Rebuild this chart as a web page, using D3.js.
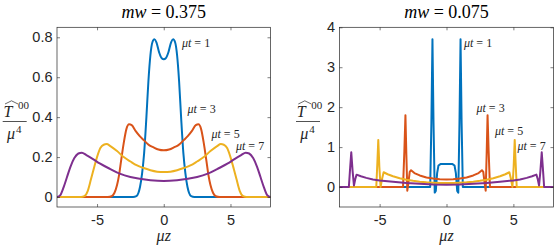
<!DOCTYPE html>
<html><head><meta charset="utf-8">
<script src="https://cdn.jsdelivr.net/npm/d3@7"></script>
<style>body{margin:0;background:#fff}svg{display:block}
.serif{font-family:"Liberation Serif","DejaVu Serif",serif}
.sans{font-family:"Liberation Sans","DejaVu Sans",sans-serif}
</style>
</head><body>
<svg id="c" width="559" height="250"></svg>
<script>
// ---------- data ----------
const colors = ["#0072BD", "#D95319", "#EDB120", "#7E2F8E"];
const seriesLabels = ["1", "3", "5", "7"];
const titlesMw = ["0.375", "0.075"];
const xTicks = [-5, 0, 5];
const yTicksLeft = [0, 0.2, 0.4, 0.6, 0.8];
const yTicksRight = [0, 1, 2, 3, 4];

// mw = 0.375  [μz, T00/μ^4]
const left_t1 = [[-8,0],[-2.3,0],[-2.05,0.004],[-1.9,0.02],[-1.78,0.05],[-1.62,0.12],[-1.47,0.22],[-1.3,0.4],[-1.15,0.58],[-1.0,0.71],[-0.85,0.775],[-0.7,0.79],[-0.55,0.775],[-0.35,0.725],[-0.15,0.695],[0,0.69],
  [0.15,0.695],[0.35,0.725],[0.55,0.775],[0.7,0.79],[0.85,0.775],[1.0,0.71],[1.15,0.58],[1.3,0.4],[1.47,0.22],[1.62,0.12],[1.78,0.05],[1.9,0.02],[2.05,0.004],[2.3,0],[8,0]];
const left_t3 = [[-8,0],[-4.2,0],[-3.9,0.004],[-3.7,0.02],[-3.5,0.06],[-3.35,0.11],[-3.2,0.18],[-3.0,0.27],[-2.8,0.34],[-2.6,0.364],[-2.4,0.36],[-2.1,0.33],[-1.8,0.305],[-1.5,0.285],[-1.1,0.26],[-0.8,0.25],[-0.4,0.238],[0,0.234],
  [0.4,0.238],[0.8,0.25],[1.1,0.26],[1.5,0.285],[1.8,0.305],[2.1,0.33],[2.4,0.36],[2.6,0.364],[2.8,0.34],[3.0,0.27],[3.2,0.18],[3.35,0.11],[3.5,0.06],[3.7,0.02],[3.9,0.004],[4.2,0],[8,0]];
const left_t5 = [[-8,0],[-6.2,0],[-5.95,0.004],[-5.7,0.03],[-5.45,0.09],[-5.25,0.14],[-5.0,0.2],[-4.75,0.245],[-4.5,0.262],[-4.28,0.265],[-4.0,0.255],[-3.5,0.23],[-3.0,0.2],[-2.5,0.178],[-2.0,0.158],[-1.5,0.145],[-1.0,0.134],[-0.5,0.127],[0,0.125],
  [0.5,0.127],[1.0,0.134],[1.5,0.145],[2.0,0.158],[2.5,0.178],[3.0,0.2],[3.5,0.23],[4.0,0.255],[4.28,0.265],[4.5,0.262],[4.75,0.245],[5.0,0.2],[5.25,0.14],[5.45,0.09],[5.7,0.03],[5.95,0.004],[6.2,0],[8,0]];
const left_t7 = [[-8,0],[-7.75,0.01],[-7.5,0.05],[-7.25,0.1],[-7.0,0.15],[-6.7,0.195],[-6.4,0.218],[-6.14,0.222],[-5.8,0.21],[-5.3,0.19],[-4.8,0.168],[-4.0,0.14],[-3.3,0.117],[-2.5,0.1],[-1.8,0.091],[-1.0,0.084],[0,0.08],
  [1.0,0.084],[1.8,0.091],[2.5,0.1],[3.3,0.117],[4.0,0.14],[4.8,0.168],[5.3,0.19],[5.8,0.21],[6.14,0.222],[6.4,0.218],[6.7,0.195],[7.0,0.15],[7.25,0.1],[7.5,0.05],[7.75,0.01],[8,0]];

// mw = 0.075
const right_t1 = [[-8,0],[-1.22,0],[-1.13,1.6],[-1.05,3.7],[-0.97,1.6],[-0.88,-0.14],[-0.8,-0.1],[-0.7,0.35],[-0.6,0.54],[-0.45,0.575],[0,0.575],
  [0.45,0.575],[0.6,0.54],[0.7,0.35],[0.8,-0.1],[0.88,-0.14],[0.97,1.6],[1.05,3.7],[1.13,1.6],[1.22,0],[8,0]];
const right_t3 = [[-8,0],[-3.25,0],[-3.15,0.9],[-3.07,1.8],[-3.0,0.8],[-2.93,-0.09],[-2.85,0.1],[-2.75,0.38],[-2.65,0.42],[-2.4,0.35],[-2.0,0.29],[-1.5,0.24],[-1.0,0.212],[-0.5,0.195],[0,0.19],
  [0.5,0.195],[1.0,0.212],[1.5,0.24],[2.0,0.29],[2.4,0.35],[2.65,0.42],[2.75,0.38],[2.85,0.1],[2.93,-0.09],[3.0,0.8],[3.07,1.8],[3.15,0.9],[3.25,0],[8,0]];
const right_t5 = [[-8,0],[-5.25,0],[-5.17,0.6],[-5.1,1.18],[-5.02,0.5],[-4.93,0],[-4.82,0.2],[-4.7,0.37],[-4.4,0.32],[-4.0,0.27],[-3.5,0.22],[-3.0,0.18],[-2.5,0.155],[-2.0,0.135],[-1.5,0.12],[-1.0,0.11],[-0.5,0.102],[0,0.1],
  [0.5,0.102],[1.0,0.11],[1.5,0.12],[2.0,0.135],[2.5,0.155],[3.0,0.18],[3.5,0.22],[4.0,0.27],[4.4,0.32],[4.7,0.37],[4.82,0.2],[4.93,0],[5.02,0.5],[5.1,1.18],[5.17,0.6],[5.25,0],[8,0]];
const right_t7 = [[-8,0],[-7.3,0],[-7.2,0.5],[-7.12,0.87],[-7.02,0.4],[-6.92,0.04],[-6.82,0.2],[-6.72,0.31],[-6.4,0.27],[-6.0,0.23],[-5.5,0.19],[-5.0,0.165],[-4.0,0.13],[-3.0,0.1],[-2.0,0.08],[-1.0,0.066],[0,0.06],
  [1.0,0.066],[2.0,0.08],[3.0,0.1],[4.0,0.13],[5.0,0.165],[5.5,0.19],[6.0,0.23],[6.4,0.27],[6.72,0.31],[6.82,0.2],[6.92,0.04],[7.02,0.4],[7.12,0.87],[7.2,0.5],[7.3,0],[8,0]];

// ---------- drawing ----------
const svg = d3.select("#c");
const axisColor = "#262626";

const panels = [
  {xr:[57,270.5], yr:[207,27.3], yd:[-0.05,0.85], yTicks:yTicksLeft, fmt:d=>d===0?"0":d.toFixed(1),
   series:[left_t1,left_t3,left_t5,left_t7], mw:titlesMw[0], curve:d3.curveMonotoneX,
   ann:[[182,47],[187.5,113],[211.5,137.5],[236,149.5]], labX:3.5},
  {xr:[339.5,553.5], yr:[207,27.3], yd:[-0.5,4], yTicks:yTicksRight, fmt:d=>String(d),
   series:[right_t1,right_t3,right_t5,right_t7], mw:titlesMw[1], curve:d3.curveLinear,
   ann:[[464,47],[476.5,112],[495,135],[517.5,149.5]], labX:296.8}
];

panels.forEach(p => {
  const x = d3.scaleLinear().domain([-8,8]).range(p.xr);
  const y = d3.scaleLinear().domain(p.yd).range(p.yr);
  const g = svg.append("g");
  const clipId = "clip" + Math.round(p.xr[0]);
  svg.append("clipPath").attr("id", clipId).append("rect")
    .attr("x", p.xr[0]).attr("y", p.yr[1]).attr("width", p.xr[1]-p.xr[0]).attr("height", p.yr[0]-p.yr[1]);

  const line = d3.line().x(d=>x(d[0])).y(d=>y(d[1])).curve(p.curve);
  p.series.forEach((s,i) => {
    g.append("path").attr("d", line(s)).attr("fill","none")
      .attr("stroke", colors[i]).attr("stroke-width", 2).attr("stroke-linejoin","round")
      .attr("clip-path", `url(#${clipId})`);
  });

  const styleAxis = sel => {
    sel.select(".domain").remove();
    sel.attr("font-family", null).attr("font-size", null);
    sel.selectAll("line").attr("stroke", axisColor).attr("stroke-width", 0.6);
    sel.selectAll("text").attr("fill", axisColor).attr("class","sans").style("font-size","14.5px");
  };
  g.append("g").attr("transform", `translate(0,${p.yr[0]})`)
    .call(d3.axisBottom(x).tickValues(xTicks).tickFormat(d=>String(d)).tickSizeInner(-3).tickSizeOuter(0).tickPadding(7.5))
    .call(styleAxis);
  g.append("g").attr("transform", `translate(0,${p.yr[1]})`)
    .call(d3.axisTop(x).tickValues(xTicks).tickFormat("").tickSizeInner(-3).tickSizeOuter(0))
    .call(styleAxis);
  g.append("g").attr("transform", `translate(${p.xr[0]},0)`)
    .call(d3.axisLeft(y).tickValues(p.yTicks).tickFormat(p.fmt).tickSizeInner(-3).tickSizeOuter(0).tickPadding(4.5))
    .call(styleAxis);
  g.append("g").attr("transform", `translate(${p.xr[1]},0)`)
    .call(d3.axisRight(y).tickValues(p.yTicks).tickFormat("").tickSizeInner(-3).tickSizeOuter(0))
    .call(styleAxis);
  g.append("rect").attr("x", p.xr[0]).attr("y", p.yr[1]).attr("width", p.xr[1]-p.xr[0]).attr("height", p.yr[0]-p.yr[1])
    .attr("fill","none").attr("stroke", axisColor).attr("stroke-width", 0.7);

  const cx = (p.xr[0]+p.xr[1])/2;
  const t = g.append("text").attr("class","serif").attr("x", cx).attr("y", 17.5).attr("text-anchor","middle")
    .style("font-size","18px").attr("fill","#000");
  t.append("tspan").style("font-style","italic").text("mw");
  t.append("tspan").text(" = " + p.mw);

  g.append("text").attr("class","serif").attr("x", cx).attr("y", 241).attr("text-anchor","middle")
    .style("font-size","16px").style("font-style","italic").attr("fill",axisColor).text("μz");

  const lx = p.labX;
  const yl = g.append("g").attr("fill", axisColor).attr("class","serif");
  yl.append("text").attr("class","serif").attr("x", lx).attr("y", 116.5).style("font-size","16px").style("font-style","italic").text("T");
  yl.append("path").attr("d", `M${lx+1.5},104 L${lx+8},100.8 L${lx+14.5},104`).attr("fill","none").attr("stroke",axisColor).attr("stroke-width",0.7);
  yl.append("text").attr("class","serif").attr("x", lx+14.5).attr("y", 109).style("font-size","11px").text("00");
  yl.append("line").attr("x1", lx-0.8).attr("x2", lx+23.2).attr("y1", 121.5).attr("y2", 121.5).attr("stroke",axisColor).attr("stroke-width",0.8);
  yl.append("text").attr("class","serif").attr("x", lx+3.5).attr("y", 138.5).style("font-size","16px").style("font-style","italic").text("μ");
  yl.append("text").attr("class","serif").attr("x", lx+12.5).attr("y", 132.5).style("font-size","11px").text("4");

  p.ann.forEach((a,i) => {
    const at = g.append("text").attr("class","serif").attr("x", a[0]).attr("y", a[1])
      .style("font-size","12px").attr("fill", axisColor);
    at.append("tspan").style("font-style","italic").text("μt");
    at.append("tspan").text(" = " + seriesLabels[i]);
  });
});
</script>
</body></html>
